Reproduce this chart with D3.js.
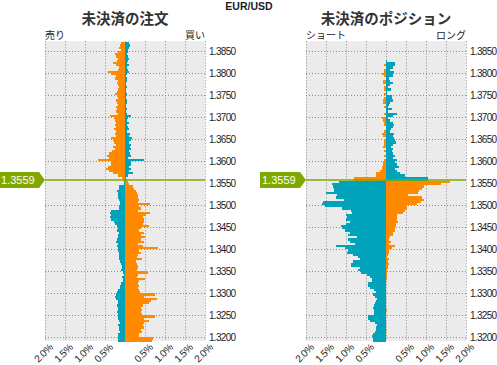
<!DOCTYPE html>
<html><head><meta charset="utf-8">
<script src="https://cdn.jsdelivr.net/npm/d3@7"></script>
<style>html,body{margin:0;padding:0;background:#fff;}svg{display:block;}</style>
</head><body>
<svg id="c" width="497" height="365"></svg>
<script>
// ---- data ----
const pair = "EUR/USD";
const currentPrice = 1.3559;
const bucketSize = 0.0005;
// lower edge of each price bucket, top to bottom
const priceLevels = [
1.3865,1.3860,1.3855,1.3850,1.3845,1.3840,1.3835,1.3830,1.3825,1.3820,
1.3815,1.3810,1.3805,1.3800,1.3795,1.3790,1.3785,1.3780,1.3775,1.3770,
1.3765,1.3760,1.3755,1.3750,1.3745,1.3740,1.3735,1.3730,1.3725,1.3720,
1.3715,1.3710,1.3705,1.3700,1.3695,1.3690,1.3685,1.3680,1.3675,1.3670,
1.3665,1.3660,1.3655,1.3650,1.3645,1.3640,1.3635,1.3630,1.3625,1.3620,
1.3615,1.3610,1.3605,1.3600,1.3595,1.3590,1.3585,1.3580,1.3575,1.3570,
1.3565,1.3560,1.3555,1.3550,1.3545,1.3540,1.3535,1.3530,1.3525,1.3520,
1.3515,1.3510,1.3505,1.3500,1.3495,1.3490,1.3485,1.3480,1.3475,1.3470,
1.3465,1.3460,1.3455,1.3450,1.3445,1.3440,1.3435,1.3430,1.3425,1.3420,
1.3415,1.3410,1.3405,1.3400,1.3395,1.3390,1.3385,1.3380,1.3375,1.3370,
1.3365,1.3360,1.3355,1.3350,1.3345,1.3340,1.3335,1.3330,1.3325,1.3320,
1.3315,1.3310,1.3305,1.3300,1.3295,1.3290,1.3285,1.3280,1.3275,1.3270,
1.3265,1.3260,1.3255,1.3250,1.3245,1.3240,1.3235,1.3230,1.3225,1.3220,
1.3215,1.3210,1.3205,1.3200,1.3195,1.3190];

// open orders (%): sell side (left) and buy side (right)
const orderSell = [
0.11,0.13,0.15,0.11,0.17,0.25,0.22,0.18,0.19,0.30,
0.23,0.15,0.17,0.42,0.36,0.22,0.25,0.18,0.21,0.17,
0.15,0.18,0.19,0.25,0.21,0.18,0.23,0.19,0.17,0.22,
0.19,0.23,0.18,0.375,0.275,0.25,0.23,0.25,0.22,0.275,
0.23,0.25,0.23,0.36,0.30,0.275,0.23,0.30,0.25,0.32,
0.40,0.44,0.40,0.67,0.35,0.36,0.43,0.47,0.39,0.30,
0.18,0.07,0.06,0.02,0.03,0.14,0.16,0.21,0.18,0.17,
0.18,0.14,0.13,0.13,0.14,0.14,0.35,0.37,0.35,0.37,
0.35,0.27,0.25,0.20,0.18,0.20,0.16,0.18,0.17,0.20,
0.22,0.18,0.20,0.18,0.18,0.16,0.15,0.15,0.14,0.12,
0.10,0.08,0.08,0.10,0.06,0.03,0.08,0.06,0.06,0.10,
0.12,0.12,0.18,0.20,0.22,0.24,0.22,0.18,0.18,0.20,
0.18,0.18,0.21,0.18,0.17,0.17,0.14,0.13,0.18,0.14,
0.14,0.13,0.17,0.17,0.18,0.17];
const orderBuy = [
0.10,0.12,0.10,0.08,0.08,0.06,0.08,0.10,0.08,0.06,
0.10,0.06,0.08,0.10,0.06,0.03,0.04,0.05,0.03,0.03,
0.05,0.03,0.03,0.06,0.03,0.03,0.06,0.04,0.03,0.03,
0.06,0.03,0.06,0.14,0.08,0.06,0.10,0.06,0.08,0.10,
0.06,0.12,0.10,0.18,0.14,0.10,0.14,0.12,0.14,0.10,
0.12,0.14,0.08,0.48,0.14,0.14,0.11,0.14,0.11,0.20,
0.07,0.03,0.04,0.07,0.11,0.19,0.23,0.28,0.30,0.32,
0.33,0.36,0.32,0.625,0.36,0.40,0.32,0.63,0.52,0.44,
0.47,0.47,0.44,0.59,0.40,0.36,0.47,0.40,0.50,0.40,
0.47,0.32,0.44,0.82,0.35,0.40,0.33,0.30,0.43,0.28,
0.30,0.33,0.32,0.30,0.58,0.32,0.30,0.50,0.34,0.33,
0.36,0.33,0.36,0.38,0.76,0.48,0.80,0.65,0.60,0.44,
0.40,0.42,0.40,0.42,0.75,0.48,0.60,0.47,0.44,0.48,
0.40,0.42,0.36,0.35,0.70,0.68];

// open positions (%): short (left) and long (right)
const posShort = [
0,0,0,0,0,0,0,0,0,0,
0.04,0,0.04,0.05,0.10,0.04,0,0.07,0.07,0,
0.04,0.04,0,0.05,0,0.04,0.07,0.08,0,0.04,
0,0,0.05,0,0.11,0.07,0.04,0.04,0,0,
0.05,0.10,0.07,0,0.04,0.05,0.04,0.08,0,0.04,
0,0.04,0,0.04,0.07,0.08,0.10,0.09,0.15,0.25,
0.25,0.80,0.80,1.17,1.35,1.32,1.30,1.29,1.50,1.23,
1.25,1.05,1.58,1.60,1.53,1.10,0.88,0.84,1.00,0.98,
1.00,0.90,1.00,1.125,1.10,1.02,0.90,0.94,0.73,0.94,
0.90,0.78,1.25,1.02,0.94,0.97,0.82,0.69,0.65,0.83,
0.88,0.875,0.65,0.69,0.625,0.48,0.40,0.36,0.36,0.44,
0.46,0.40,0.30,0.25,0.32,0.275,0.22,0.25,0.275,0.30,
0.32,0.30,0.30,0.30,0.44,0.46,0.40,0.28,0.23,0.25,
0.26,0.28,0.32,0.36,0.32,0.32];
const posLong = [
0,0,0,0,0,0,0,0,0.03,0.225,
0.225,0.18,0.10,0.20,0.17,0.17,0.08,0.10,0.18,0.10,
0.06,0.12,0.03,0.02,0.14,0.16,0.17,0.10,0.08,0.06,
0.14,0.06,0.27,0.18,0.06,0.10,0.18,0.21,0.18,0.12,
0.10,0.20,0.17,0.20,0.225,0.25,0.18,0.12,0.18,0.14,
0.17,0.225,0.18,0.28,0.23,0.27,0.32,0.23,0.27,0.35,
0.48,1.04,1.04,1.60,1.37,0.95,0.89,0.83,0.81,0.54,
0.89,0.95,0.87,0.77,0.52,0.52,0.475,0.42,0.27,0.27,
0.27,0.31,0.25,0.25,0.225,0.225,0.18,0.17,0.10,0.08,
0.12,0.08,0.225,0.14,0.08,0.08,0.06,0.03,0.075,0.06,
0.08,0.06,0.04,0.03,0.02,0.02,0.02,0.02,0,0,
0,0,0,0,0,0,0,0,0,0,
0,0.03,0,0,0,0,0,0,0,0,
0.02,0,0,0,0,0];

const yTicks = [1.3850,1.3800,1.3750,1.3700,1.3650,1.3600,1.3550,1.3500,1.3450,1.3400,1.3350,1.3300,1.3250,1.3200];
const xTickValues = [-2,-1.5,-1,-0.5,0,0.5,1,1.5,2];
const xTickLabels = ["2.0%","1.5%","1.0%","0.5%","","0.5%","1.0%","1.5%","2.0%"];

const panels = [
  {title:"未決済の注文", leftLabel:"売り", rightLabel:"買い", left:orderSell, right:orderBuy},
  {title:"未決済のポジション", leftLabel:"ショート", rightLabel:"ロング", left:posShort, right:posLong}
];

// ---- layout / style ----
const ORANGE = "#ff8a00", TEAL = "#00a3b9", GREEN = "#80a800", BG = "#ebebeb";
const plotTop = 41.3, plotBottom = 341, plotW = 160;
const panelX = [45, 306];
const NUMFONT = "'Liberation Sans', Arial, sans-serif";
const JPFONT = "'Noto Sans CJK JP', sans-serif";

const svg = d3.select("#c");
const y = d3.scaleLinear().domain([1.3192, 1.3872]).range([plotBottom, plotTop]);

svg.append("text").attr("x", 249).attr("y", 10).attr("text-anchor", "middle")
  .attr("font-family", NUMFONT).attr("font-size", 10.5).attr("font-weight", "bold")
  .attr("fill", "#1a1a2a").text(pair);

const bars = priceLevels.map((p, i) => ({p, i, above: p + bucketSize > currentPrice}));
// the grid line right next to the current price is hidden behind the price marker
const gridTicks = yTicks.filter(t => Math.abs(t - currentPrice) > 0.0012);

panels.forEach((pn, pi) => {
  const x0 = panelX[pi];
  const x = d3.scaleLinear().domain([-2, 2]).range([x0, x0 + plotW]);
  const g = svg.append("g");

  g.append("rect").attr("x", x0).attr("y", plotTop).attr("width", plotW)
    .attr("height", plotBottom - plotTop).attr("fill", BG);

  // grid
  g.selectAll("line.v").data(xTickValues).join("line")
    .attr("x1", d => Math.round(x(d)) + 0.5).attr("x2", d => Math.round(x(d)) + 0.5)
    .attr("y1", plotTop).attr("y2", plotBottom)
    .attr("stroke", "#8a8a8a").attr("stroke-dasharray", "1,2");
  g.selectAll("line.h").data(gridTicks).join("line")
    .attr("x1", x0).attr("x2", x0 + plotW)
    .attr("y1", d => Math.round(y(d)) + 0.5).attr("y2", d => Math.round(y(d)) + 0.5)
    .attr("stroke", "#8a8a8a").attr("stroke-dasharray", "1,2");

  // bars
  const bh = d => y(d.p) - y(d.p + bucketSize);
  g.selectAll("rect.l").data(bars).join("rect")
    .attr("x", d => x(-pn.left[d.i])).attr("width", d => x(0) - x(-pn.left[d.i]))
    .attr("y", d => y(d.p + bucketSize)).attr("height", bh)
    .attr("fill", d => d.above ? ORANGE : TEAL).attr("shape-rendering", "crispEdges");
  g.selectAll("rect.r").data(bars).join("rect")
    .attr("x", x(0)).attr("width", d => x(pn.right[d.i]) - x(0))
    .attr("y", d => y(d.p + bucketSize)).attr("height", bh)
    .attr("fill", d => d.above ? TEAL : ORANGE).attr("shape-rendering", "crispEdges");

  // price line
  const py = y(currentPrice) + 0.8;
  g.append("line").attr("x1", x0).attr("x2", x0 + plotW).attr("y1", py).attr("y2", py)
    .attr("stroke", GREEN).attr("stroke-width", 1.6);
  const tagR = x0, tagL = x0 - 46;
  g.append("path")
    .attr("d", `M${tagL},${py - 8}H${tagR - 6}L${tagR},${py}L${tagR - 6},${py + 8}H${tagL}Z`)
    .attr("fill", GREEN);
  g.append("text").attr("x", tagL + 2).attr("y", py + 4).attr("font-family", NUMFONT)
    .attr("font-size", 11).attr("fill", "#fff").text(currentPrice.toFixed(4));

  // y axis labels
  const ya = d3.axisRight(y).tickValues(yTicks).tickFormat(d3.format(".4f")).tickSize(0).tickPadding(4);
  const yg = g.append("g").attr("transform", `translate(${x0 + plotW},0)`).call(ya);
  yg.select(".domain").remove();
  yg.selectAll("text").attr("font-family", NUMFONT).attr("font-size", 10)
    .attr("letter-spacing", "-0.7").attr("fill", "#222");

  // x axis labels
  const xa = d3.axisBottom(x).tickValues(xTickValues).tickFormat((d, i) => xTickLabels[i]).tickSize(0);
  const xg = g.append("g").attr("transform", `translate(0,${plotBottom})`).call(xa);
  xg.select(".domain").remove();
  xg.selectAll("text").attr("font-family", NUMFONT).attr("font-size", 10)
    .attr("letter-spacing", "-0.4").attr("fill", "#222")
    .attr("text-anchor", "end").attr("dy", null).attr("y", 0)
    .attr("transform", "translate(8,7) rotate(-45)");

  // titles
  g.append("text").attr("x", x0 + plotW / 2).attr("y", 24).attr("text-anchor", "middle")
    .attr("font-family", JPFONT).attr("font-size", 14.5).attr("font-weight", "bold")
    .attr("fill", "#333").text(pn.title);
  g.append("text").attr("x", x0).attr("y", 39).attr("font-family", JPFONT)
    .attr("font-size", 10).attr("fill", "#222").text(pn.leftLabel);
  g.append("text").attr("x", x0 + plotW).attr("y", 39).attr("text-anchor", "end")
    .attr("font-family", JPFONT).attr("font-size", 10).attr("fill", "#222").text(pn.rightLabel);
});
</script>
</body></html>
